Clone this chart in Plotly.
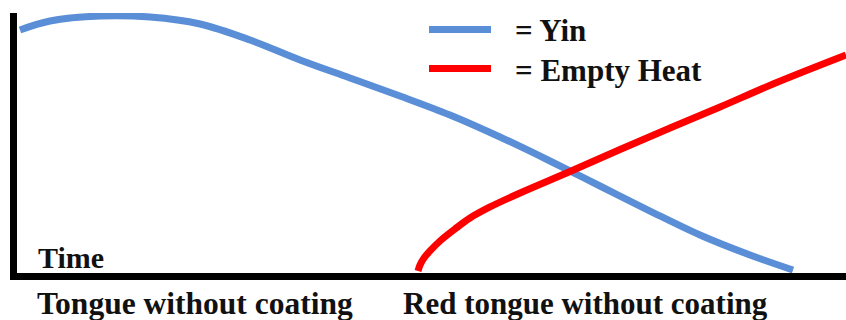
import plotly.graph_objects as go

# ---- data (time 0-100, level 0-100) ----
yin_time = [0.72, 4.33, 10.34, 16.35, 22.36, 28.37, 34.38, 40.38, 46.39, 52.40,
            58.41, 64.42, 70.43, 76.44, 82.45, 88.46, 93.63]
yin_level = [93.54, 96.96, 98.86, 98.48, 95.82, 89.73, 82.13, 75.29, 68.44, 61.22,
             52.85, 43.73, 34.22, 24.71, 15.59, 7.98, 2.28]

heat_time = [48.56, 48.80, 49.28, 50.0, 51.20, 53.00, 54.81, 57.21, 60.82, 66.83,
             72.84, 78.85, 84.86, 91.23, 100.0]
heat_level = [1.90, 4.18, 6.84, 9.51, 13.31, 17.87, 22.05, 26.24, 31.56, 39.73,
              48.10, 56.27, 64.26, 73.0, 84.03]

series_names = ["Yin", "Empty Heat"]
series_colors = ["#5a8ed6", "#ff0000"]
legend_labels = ["= Yin", "= Empty Heat"]
axis_label = "Time"
stage_labels = ["Tongue without coating", "Red tongue without coating"]

# ---- layout geometry ----
W, H = 846, 320
L, R, T, B = 17, 0, 13, 47
PW, PH = W - L - R, H - T - B


def px(x):
    return (x - L) / PW


def py(y):
    return (H - B - y) / PH


FONT = "Liberation Serif, Times New Roman, serif"

fig = go.Figure()
fig.add_trace(go.Scatter(x=yin_time, y=yin_level, mode="lines", name=series_names[0],
                         line=dict(color=series_colors[0], width=7, shape="spline", smoothing=1.0),
                         showlegend=False, hoverinfo="skip"))
fig.add_trace(go.Scatter(x=heat_time, y=heat_level, mode="lines", name=series_names[1],
                         line=dict(color=series_colors[1], width=7, shape="spline", smoothing=1.0),
                         showlegend=False, hoverinfo="skip"))

# legend samples
legend_y = [29.5, 68.5]
for i, (c, lab) in enumerate(zip(series_colors, legend_labels)):
    fig.add_shape(type="line", xref="paper", yref="paper",
                  x0=px(429), x1=px(491), y0=py(legend_y[i]), y1=py(legend_y[i]),
                  line=dict(color=c, width=7))
    fig.add_annotation(xref="paper", yref="paper", x=px(513), y=py(legend_y[i] + 1.5),
                       xanchor="left", yanchor="middle", showarrow=False,
                       text="<b>" + lab + "</b>",
                       font=dict(family=FONT, size=31, color="#111111"))

fig.add_annotation(xref="paper", yref="paper", x=px(36), y=py(257),
                   xanchor="left", yanchor="middle", showarrow=False,
                   text="<b>" + axis_label + "</b>",
                   font=dict(family=FONT, size=30, color="#111111"))

stage_x = [35, 401]
stage_size = [31.5, 31]
for sx, lab, sz in zip(stage_x, stage_labels, stage_size):
    fig.add_annotation(xref="paper", yref="paper", x=px(sx), y=py(303),
                       xanchor="left", yanchor="middle", showarrow=False,
                       text="<b>" + lab + "</b>",
                       font=dict(family=FONT, size=sz, color="#111111"))

x0 = (L - 14) / 8.32
y0 = (276 - (H - B)) / 2.63
fig.update_xaxes(range=[x0, 100], showgrid=False, zeroline=False, showticklabels=False,
                 ticks="", showline=True, linecolor="black", linewidth=7, fixedrange=True)
fig.update_yaxes(range=[y0, 100], showgrid=False, zeroline=False, showticklabels=False,
                 ticks="", showline=True, linecolor="black", linewidth=7, fixedrange=True)

fig.update_layout(width=W, height=H, margin=dict(l=L, r=R, t=T, b=B),
                  paper_bgcolor="white", plot_bgcolor="white", showlegend=False)

fig.write_html("out.html", config={"displayModeBar": False},
               post_script="document.body.style.margin='0';")
